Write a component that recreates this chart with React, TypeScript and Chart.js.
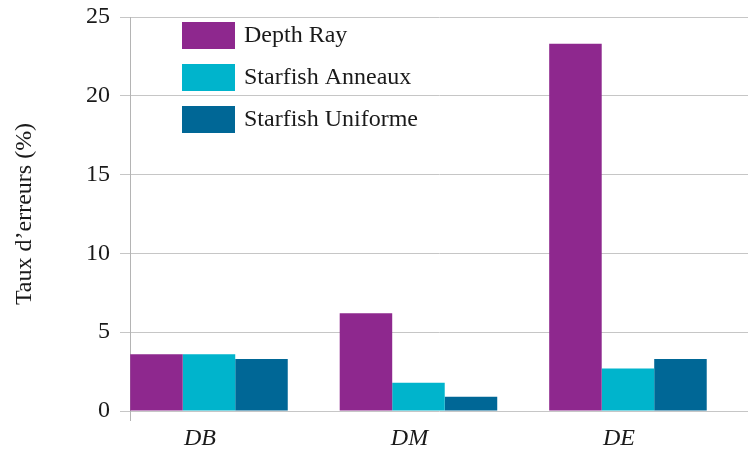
import React, { useEffect, useRef } from "react";
import { Chart, registerables } from "chart.js";

Chart.register(...registerables);

const categories = ["DB", "DM", "DE"];
const categoryPositions = [1, 2, 3];
const depthRay = [3.6, 6.2, 23.3];
const starfishAnneaux = [3.6, 1.8, 2.7];
const starfishUniforme = [3.3, 0.9, 3.3];
const yTicks = [0, 5, 10, 15, 20, 25];
const seriesLabels = ["Depth Ray", "Starfish Anneaux", "Starfish Uniforme"];
const seriesColors = ["#8e288e", "#00b4cc", "#006796"];

const FONT = '"Liberation Serif", "Times New Roman", serif';
const TEXT = "#1a1a1a";

const legendPlugin = {
  id: "insideLegend",
  afterDraw(chart: any) {
    const { ctx, chartArea } = chart;
    ctx.save();
    // y axis extension below zero
    ctx.strokeStyle = "#b4b4b4";
    ctx.lineWidth = 1;
    ctx.beginPath();
    ctx.moveTo(Math.round(chartArea.left) + 0.5, chartArea.bottom);
    ctx.lineTo(Math.round(chartArea.left) + 0.5, chartArea.bottom + 10);
    ctx.stroke();
    chart.data.datasets.forEach((ds: any, i: number) => {
      const x = chartArea.left + 52;
      const y = chartArea.top + 5 + i * 42;
      ctx.fillStyle = ds.backgroundColor;
      ctx.fillRect(x, y, 53, 27);
      ctx.fillStyle = TEXT;
      ctx.font = `24px ${FONT}`;
      ctx.textBaseline = "middle";
      ctx.textAlign = "left";
      ctx.fillText(ds.label, x + 62, y + 14);
    });
    ctx.restore();
  },
};

export default function App() {
  const ref = useRef<HTMLCanvasElement | null>(null);

  useEffect(() => {
    document.body.style.margin = "0";
    if (!ref.current) return;
    const series = [depthRay, starfishAnneaux, starfishUniforme];
    const chart = new Chart(ref.current, {
      type: "bar",
      data: {
        datasets: series.map((vals, i) => ({
          label: seriesLabels[i],
          data: vals.map((v, j) => ({ x: categoryPositions[j], y: v })),
          backgroundColor: seriesColors[i],
          borderWidth: 0,
          categoryPercentage: 0.752,
          barPercentage: 1,
        })),
      },
      options: {
        animation: false,
        responsive: false,
        maintainAspectRatio: false,
        layout: { padding: { top: 17, right: 0, bottom: 0, left: 0 } },
        plugins: { legend: { display: false }, tooltip: { enabled: false } },
        scales: {
          x: {
            type: "linear",
            min: 0.623,
            max: 3.573,
            offset: false,
            afterBuildTicks: (s: any) => {
              s.ticks = categoryPositions.map((v) => ({ value: v }));
            },
            afterFit: (s: any) => {
              s.height = 39;
              s.paddingLeft = 0;
              s.paddingRight = 0;
            },
            ticks: {
              callback: (v: any) => {
                const idx = categoryPositions.indexOf(Number(v));
                return idx >= 0 ? categories[idx] : "";
              },
              font: { family: FONT, size: 24, style: "italic" },
              color: TEXT,
              labelOffset: -9,
              padding: 13,
              maxRotation: 0,
              autoSkip: false,
            },
            grid: { display: false, drawTicks: false, offset: false },
            border: { display: false },
          },
          y: {
            min: 0,
            max: 25,
            afterBuildTicks: (s: any) => {
              s.ticks = yTicks.map((v) => ({ value: v }));
            },
            afterFit: (s: any) => {
              s.width = 130;
              s.paddingTop = 0;
              s.paddingBottom = 0;
            },
            ticks: {
              font: { family: FONT, size: 24 },
              color: TEXT,
              padding: 10,
            },
            grid: { color: "#c6c6c6", lineWidth: 1, tickLength: 10 },
            border: { display: true, color: "#b4b4b4" },
            title: {
              display: true,
              text: "Taux d’erreurs (%)",
              font: { family: FONT, size: 24 },
              color: TEXT,
              padding: { top: 10, bottom: 0 },
            },
          },
        },
      },
      plugins: [legendPlugin],
    });
    return () => chart.destroy();
  }, []);

  return (
    <div style={{ width: 748, height: 450 }}>
      <canvas ref={ref} width={748} height={450} />
    </div>
  );
}
